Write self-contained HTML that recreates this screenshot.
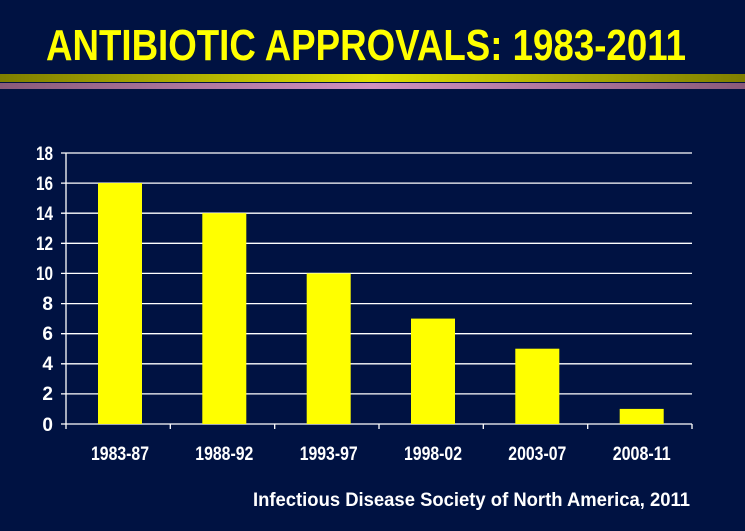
<!DOCTYPE html>
<html><head><style>
body{margin:0;width:745px;height:526px;background:#001242;overflow:hidden;font-family:"Liberation Sans",sans-serif}
</style></head><body>
<svg width="745" height="526" xmlns="http://www.w3.org/2000/svg">
<defs>
<linearGradient id="gy" x1="0" x2="1"><stop offset="0" stop-color="#7f7f00"/><stop offset="0.5" stop-color="#e0e000"/><stop offset="1" stop-color="#7f7f00"/></linearGradient>
<linearGradient id="gp" x1="0" x2="1"><stop offset="0" stop-color="#8a5a7a"/><stop offset="0.5" stop-color="#d090c0"/><stop offset="1" stop-color="#8a5a7a"/></linearGradient>
</defs>
<rect width="745" height="526" fill="#001242"/>
<text x="366" y="60" text-anchor="middle" font-size="44" font-weight="bold" fill="#ffff00" textLength="640" lengthAdjust="spacingAndGlyphs">ANTIBIOTIC APPROVALS: 1983-2011</text>
<rect x="0" y="74" width="745" height="8" fill="url(#gy)"/>
<rect x="0" y="83" width="745" height="6" fill="url(#gp)"/>
<g stroke="#fff" stroke-width="1.3">
<line x1="61" y1="153" x2="692" y2="153"/>
<line x1="61" y1="183.1" x2="692" y2="183.1"/>
<line x1="61" y1="213.2" x2="692" y2="213.2"/>
<line x1="61" y1="243.3" x2="692" y2="243.3"/>
<line x1="61" y1="273.4" x2="692" y2="273.4"/>
<line x1="61" y1="303.6" x2="692" y2="303.6"/>
<line x1="61" y1="333.7" x2="692" y2="333.7"/>
<line x1="61" y1="363.8" x2="692" y2="363.8"/>
<line x1="61" y1="393.9" x2="692" y2="393.9"/>
<line x1="61" y1="424" x2="692" y2="424"/>
<line x1="66" y1="153" x2="66" y2="424"/>
<line x1="66" y1="424" x2="66" y2="429"/>
<line x1="170.3" y1="424" x2="170.3" y2="429"/>
<line x1="274.7" y1="424" x2="274.7" y2="429"/>
<line x1="379" y1="424" x2="379" y2="429"/>
<line x1="483.3" y1="424" x2="483.3" y2="429"/>
<line x1="587.7" y1="424" x2="587.7" y2="429"/>
<line x1="692" y1="424" x2="692" y2="429"/>
</g>
<g fill="#ffff00">
<rect x="98" y="183.1" width="44" height="240.9"/>
<rect x="202.3" y="213.2" width="44" height="210.8"/>
<rect x="306.7" y="273.4" width="44" height="150.6"/>
<rect x="411" y="318.6" width="44" height="105.4"/>
<rect x="515.3" y="348.7" width="44" height="75.3"/>
<rect x="619.7" y="408.9" width="44" height="15.1"/>
</g>
<g fill="#fff" font-size="19" font-weight="bold" text-anchor="end">
<text x="53" y="160" textLength="17" lengthAdjust="spacingAndGlyphs">18</text>
<text x="53" y="190" textLength="17" lengthAdjust="spacingAndGlyphs">16</text>
<text x="53" y="220" textLength="17" lengthAdjust="spacingAndGlyphs">14</text>
<text x="53" y="250" textLength="17" lengthAdjust="spacingAndGlyphs">12</text>
<text x="53" y="280" textLength="17" lengthAdjust="spacingAndGlyphs">10</text>
<text x="53" y="310">8</text>
<text x="53" y="340">6</text><text x="53" y="370">4</text><text x="53" y="400">2</text>
<text x="53" y="431">0</text>
</g>
<g fill="#fff" font-size="19" font-weight="bold" text-anchor="middle">
<text x="120" y="460" textLength="58" lengthAdjust="spacingAndGlyphs">1983-87</text>
<text x="224.3" y="460" textLength="58" lengthAdjust="spacingAndGlyphs">1988-92</text>
<text x="328.7" y="460" textLength="58" lengthAdjust="spacingAndGlyphs">1993-97</text>
<text x="433" y="460" textLength="58" lengthAdjust="spacingAndGlyphs">1998-02</text>
<text x="537.3" y="460" textLength="58" lengthAdjust="spacingAndGlyphs">2003-07</text>
<text x="641.7" y="460" textLength="58" lengthAdjust="spacingAndGlyphs">2008-11</text>
</g>
<text x="690" y="506" text-anchor="end" fill="#fff" font-size="19" font-weight="bold" textLength="437" lengthAdjust="spacingAndGlyphs">Infectious Disease Society of North America, 2011</text>
</svg>
</body></html>
